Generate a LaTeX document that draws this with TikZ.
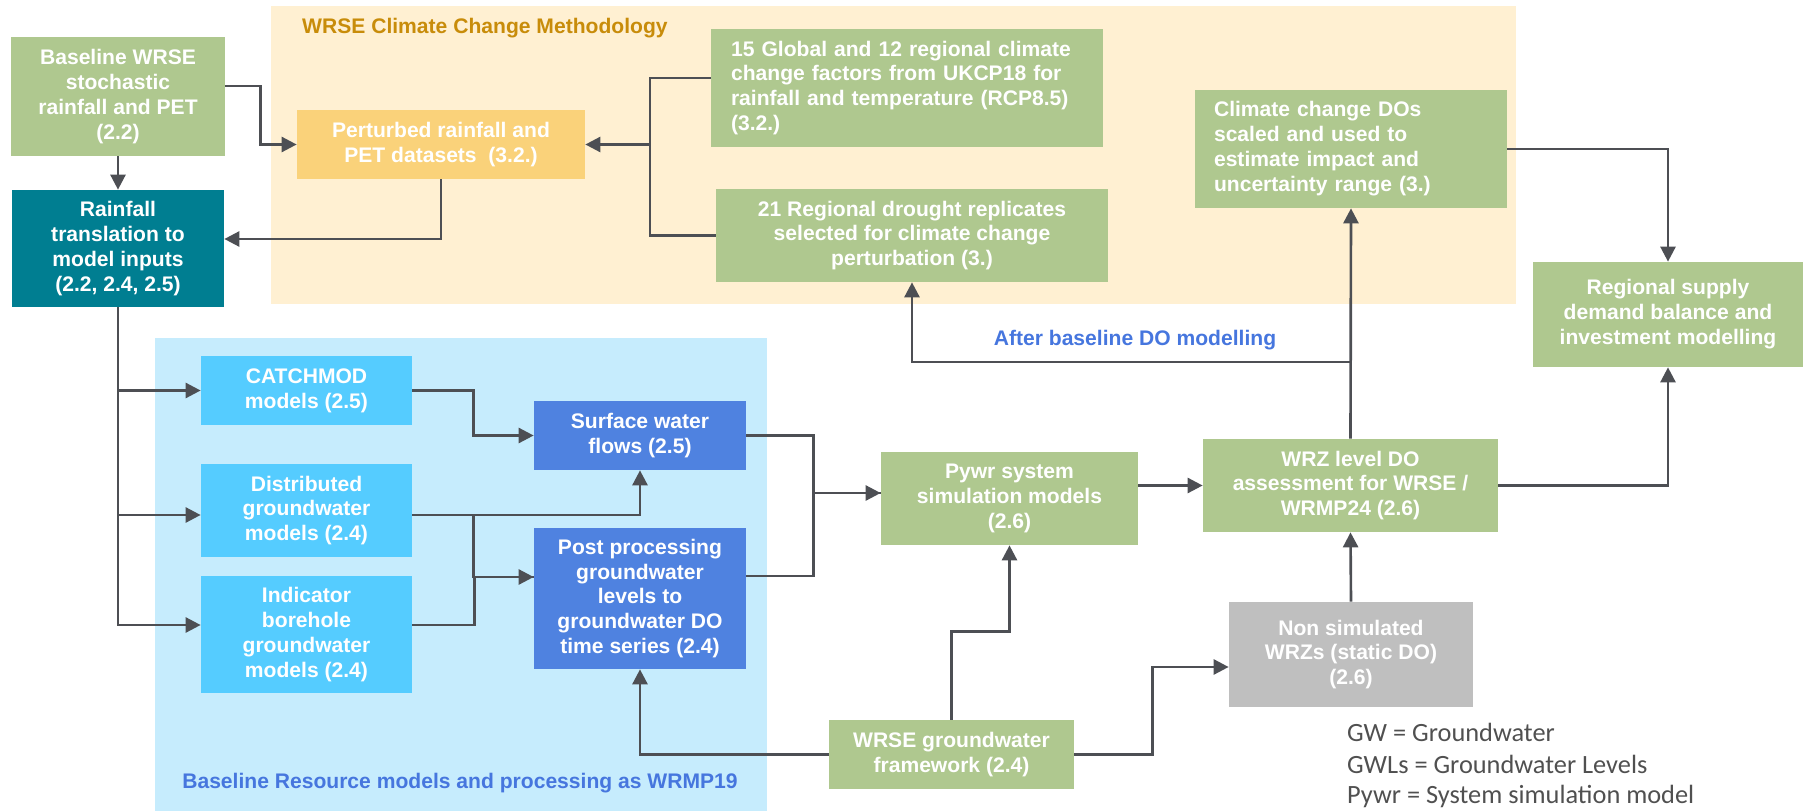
\documentclass[tikz,border=0pt]{standalone}
\usepackage{fontspec}
\setmainfont{Liberation Sans}
\newfontfamily\legendfont{Carlito}
\usepackage{tikz}
\usepackage{xcolor}
\usetikzlibrary{arrows.meta}

\definecolor{boxgreen}{RGB}{175,200,143}
\definecolor{climbg}{RGB}{255,240,210}
\definecolor{pertyellow}{RGB}{250,210,122}
\definecolor{rainteal}{RGB}{0,126,145}
\definecolor{basebg}{RGB}{198,236,253}
\definecolor{modelcyan}{RGB}{85,204,255}
\definecolor{procblue}{RGB}{79,130,224}
\definecolor{staticgrey}{RGB}{191,191,191}
\definecolor{linegrey}{RGB}{77,79,84}
\definecolor{climgold}{RGB}{200,140,10}
\definecolor{labelblue}{RGB}{70,118,222}
\definecolor{legendgrey}{RGB}{80,80,80}

\begin{document}
\begin{tikzpicture}[x=0.02cm,y=-0.02cm,
  box/.style={rectangle,inner sep=0pt,text=white,align=center,font=\bfseries\fontsize{12}{14.2}\selectfont},
  wh/.style 2 args={minimum width={#1*0.02cm},minimum height={#2*0.02cm}},
  conn/.style={draw=linegrey,line width=1.5pt},
  arr/.style={conn,-{Triangle[length=0.3cm,width=0.3cm]}}]
\useasboundingbox (0,0) rectangle (1803,811);
% background panels
\fill[climbg] (271,6) rectangle (1516,304);
\fill[basebg] (155,338) rectangle (767,811);
\node[anchor=west,text=climgold,font=\bfseries\fontsize{12}{14.2}\selectfont] (climtitle) at (296,28) {WRSE Climate Change Methodology};
\node[text=labelblue,font=\bfseries\fontsize{12}{14.2}\selectfont] (basetitle) at (460,783) {Baseline Resource models and processing as WRMP19};
% rainfall inputs
\node[box,fill=boxgreen,wh={214}{119}] (base) at (118,96.5) {Baseline WRSE\\stochastic\\rainfall and PET\\(2.2)};
\node[box,fill=rainteal,wh={212}{117}] (rain) at (118,248.5) {Rainfall\\translation to\\model inputs\\(2.2, 2.4, 2.5)};
% climate change boxes
\node[box,fill=pertyellow,wh={288}{69}] (pert) at (441,144.5) {Perturbed rainfall and\\PET datasets~~(3.2.)};
\node[box,fill=boxgreen,wh={392}{118},align=left,text width=7.04cm] (ukcp) at (907,88) {15 Global and 12 regional climate\\change factors from UKCP18 for\\rainfall and temperature (RCP8.5)\\(3.2.)};
\node[box,fill=boxgreen,wh={392}{93}] (drought) at (912,235.5) {21 Regional drought replicates\\selected for climate change\\perturbation (3.)};
\node[box,fill=boxgreen,wh={312}{118},align=left,text width=5.48cm] (ccdo) at (1351,149) {Climate change DOs\\scaled and used to\\estimate impact and\\uncertainty range (3.)};
\node[box,fill=boxgreen,wh={270}{105}] (rsdb) at (1668,314.5) {Regional supply\\demand balance and\\investment modelling};
% resource models
\node[box,fill=modelcyan,wh={211}{69}] (catch) at (306.5,390.5) {CATCHMOD\\models (2.5)};
\node[box,fill=modelcyan,wh={211}{93}] (dist) at (306.5,510.5) {Distributed\\groundwater\\models (2.4)};
\node[box,fill=modelcyan,wh={211}{117}] (indic) at (306.5,634.5) {Indicator\\borehole\\groundwater\\models (2.4)};
\node[box,fill=procblue,wh={212}{69}] (surf) at (640,435.5) {Surface water\\flows (2.5)};
\node[box,fill=procblue,wh={212}{141}] (post) at (640,598.5) {Post processing\\groundwater\\levels to\\groundwater DO\\time series (2.4)};
% system modelling
\node[box,fill=boxgreen,wh={257}{93}] (pywr) at (1009.5,498.5) {Pywr system\\simulation models\\(2.6)};
\node[box,fill=boxgreen,wh={295}{93}] (wrz) at (1350.5,485.5) {WRZ level DO\\assessment for WRSE /\\WRMP24 (2.6)};
\node[box,fill=staticgrey,wh={244}{105}] (nonsim) at (1351,654.5) {Non simulated\\WRZs (static DO)\\(2.6)};
\node[box,fill=boxgreen,wh={245}{69}] (gwf) at (951.5,754.5) {WRSE groundwater\\framework (2.4)};
% legend
\node[anchor=west,text=legendgrey,font=\legendfont\fontsize{15}{18}\selectfont] (gwkey) at (1341,732) {GW = Groundwater};
\node[anchor=west,text=legendgrey,font=\legendfont\fontsize{15}{18}\selectfont] (gwlkey) at (1341,764) {GWLs = Groundwater Levels};
\node[anchor=west,text=legendgrey,font=\legendfont\fontsize{15}{18}\selectfont] (pywrkey) at (1341,796) {Pywr = System simulation model};
% connectors top
\draw[arr] ([yshift=0.21cm]base.east) -- ++(35,0) |- (pert.west);
\draw[arr] (base.south) -- (rain.north);
\draw[arr] (pert.south) |- ([yshift=0.19cm]rain.east);
\coordinate (fork) at (650,144.5);
\draw[conn] ([yshift=0.2cm]ukcp.west) -| (fork) |- (drought.west);
\draw[arr] (fork) -- (pert.east);
% connectors resource models
\draw[arr] (rain.south) |- (catch.west);
\draw[arr] (rain.south) |- ([yshift=-0.09cm]dist.west);
\draw[arr] (rain.south) |- ([yshift=0.19cm]indic.west);
\draw[arr] (catch.east) -- ++(61,0) |- (surf.west);
\draw[arr] ([yshift=-0.09cm]dist.east) -| (surf.south);
\draw[arr] ([yshift=-0.09cm]dist.east) -- ++(61,0) |- ([yshift=0.43cm]post.west);
\draw[conn] ([yshift=0.19cm]indic.east) -- ++(62,0) |- ([yshift=0.43cm]post.west);
\draw[arr] (surf.east) -- ++(67,0) |- ([yshift=0.11cm]pywr.west);
\draw[conn] ([yshift=0.45cm]post.east) -- ++(67,0) |- ([yshift=0.11cm]pywr.west);
% connectors system modelling
\draw[arr] (pywr.east |- wrz.west) -- (wrz.west);
\draw[arr] (wrz.east) -| (rsdb.south);
\draw[arr] (ccdo.east) -| (rsdb.north);
\draw[arr] (wrz.north) -- (ccdo.south);
\coordinate (after) at (1351,362);
\draw[arr] (after) -| (drought.south);
\node[text=labelblue,font=\bfseries\fontsize{12}{14.2}\selectfont] (afterlabel) at (1135,340) {After baseline DO modelling};
\draw[arr] (nonsim.north) -- (wrz.south);
\draw[arr] (gwf.north) -- ++(0,-88) -| (pywr.south);
\draw[arr] (gwf.east) -- ++(78,0) |- ([yshift=-0.25cm]nonsim.west);
\draw[arr] (gwf.west) -| (post.south);
\end{tikzpicture}
\end{document}
